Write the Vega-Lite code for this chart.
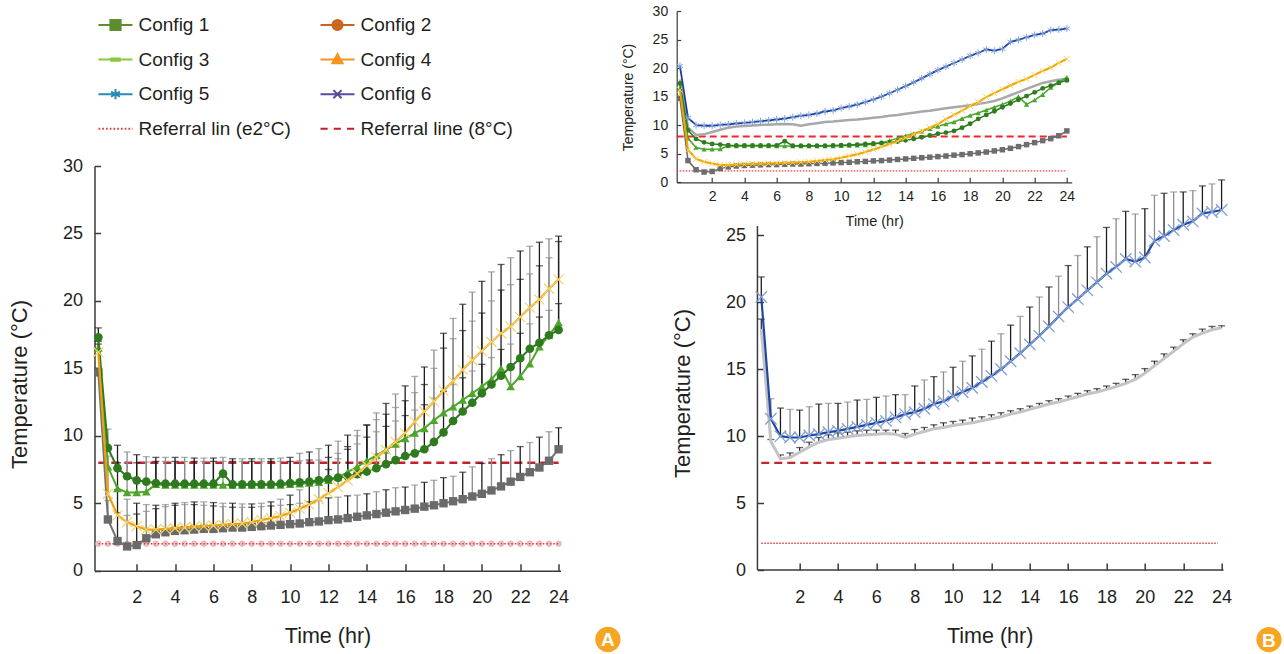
{
  "$schema": "https://vega.github.io/schema/vega-lite/v6.json",
  "background": "white",
  "padding": {"left": 7.5, "top": 4, "right": 0, "bottom": 0},
  "config": {
    "view": {"stroke": null},
    "font": "Liberation Sans",
    "axis": {"grid": false, "domainColor": "#3a3a3a", "tickColor": "#3a3a3a", "labelColor": "#231f20", "titleColor": "#231f20", "titleFontWeight": "normal", "labelOverlap": false, "labelFlush": false, "domainWidth": 1.5, "tickWidth": 1.5, "titleFont": "Liberation Sans", "tickCount": 50, "format": "d"},
    "legend": {"columns": 2, "columnPadding": 25, "rowPadding": 6.6, "symbolSize": 1156, "symbolStrokeWidth": 2, "labelFont": "Liberation Sans", "labelFontSize": 19, "labelOffset": 5, "labelLimit": 0, "padding": 0, "symbolOpacity": 1, "labelColor": "#231f20"}
  },
  "datasets": {
    "leg": [{"s": "Config 1"}, {"s": "Config 2"}, {"s": "Config 3"}, {"s": "Config 4"}, {"s": "Config 5"}, {"s": "Config 6"}, {"s": "Referral lin (e2°C)"}, {"s": "Referral line (8°C)"}],
    "d": [
      {"t":0,"a":14.7,"au":15.0,"b":17.3,"bu":18.0,"c":16.5,"cu":17.0,"d":16.2,"du":16.8,"e":20.4,"eu":21.9,"f":18.0,"fu":18.75},
      {"t":0.5,"a":3.8,"au":5.2,"b":9.1,"bu":10.5,"c":7.7,"cu":8.5,"d":5.7,"du":7.5,"e":11.3,"eu":12.8,"f":9.6,"fu":9.75},
      {"t":1,"a":2.2,"au":4.3,"b":7.6,"bu":9.3,"c":6.1,"cu":8.0,"d":4.1,"du":6.0,"e":10.0,"eu":12.1,"f":8.3,"fu":8.6},
      {"t":1.5,"a":1.8,"au":4.1,"b":7.0,"bu":8.8,"c":5.8,"cu":8.0,"d":3.6,"du":5.3,"e":9.9,"eu":12.0,"f":8.4,"fu":8.75},
      {"t":2,"a":1.9,"au":4.2,"b":6.7,"bu":8.6,"c":5.8,"cu":8.0,"d":3.3,"du":5.0,"e":9.9,"eu":11.95,"f":8.8,"fu":9.15},
      {"t":2.5,"a":2.4,"au":4.4,"b":6.6,"bu":8.45,"c":5.85,"cu":8.05,"d":3.05,"du":4.9,"e":10.05,"eu":12.2,"f":9.2,"fu":9.55},
      {"t":3,"a":2.7,"au":4.6,"b":6.5,"bu":8.4,"c":6.4,"cu":8.1,"d":3.05,"du":4.85,"e":10.15,"eu":12.4,"f":9.55,"fu":9.9},
      {"t":3.5,"a":2.85,"au":4.75,"b":6.45,"bu":8.4,"c":6.35,"cu":8.1,"d":3.1,"du":4.9,"e":10.3,"eu":12.45,"f":9.75,"fu":10.1},
      {"t":4,"a":2.95,"au":4.85,"b":6.45,"bu":8.4,"c":6.35,"cu":8.1,"d":3.15,"du":5.0,"e":10.4,"eu":12.45,"f":9.85,"fu":10.25},
      {"t":4.5,"a":3.0,"au":4.9,"b":6.45,"bu":8.4,"c":6.35,"cu":8.1,"d":3.2,"du":5.05,"e":10.55,"eu":12.55,"f":9.95,"fu":10.3},
      {"t":5,"a":3.05,"au":4.9,"b":6.45,"bu":8.35,"c":6.35,"cu":8.1,"d":3.25,"du":5.1,"e":10.7,"eu":12.7,"f":10.05,"fu":10.4},
      {"t":5.5,"a":3.1,"au":4.85,"b":6.45,"bu":8.35,"c":6.35,"cu":8.1,"d":3.3,"du":5.1,"e":10.85,"eu":12.75,"f":10.1,"fu":10.45},
      {"t":6,"a":3.1,"au":4.8,"b":6.45,"bu":8.35,"c":6.35,"cu":8.1,"d":3.35,"du":5.05,"e":11.0,"eu":12.9,"f":10.15,"fu":10.45},
      {"t":6.5,"a":3.15,"au":4.75,"b":7.2,"bu":8.4,"c":6.35,"cu":8.1,"d":3.4,"du":5.0,"e":11.15,"eu":13.0,"f":10.2,"fu":10.45},
      {"t":7,"a":3.2,"au":4.7,"b":6.4,"bu":8.3,"c":6.35,"cu":8.1,"d":3.45,"du":5.0,"e":11.4,"eu":13.1,"f":10.15,"fu":10.45},
      {"t":7.5,"a":3.2,"au":4.7,"b":6.4,"bu":8.3,"c":6.35,"cu":8.1,"d":3.5,"du":4.95,"e":11.65,"eu":13.1,"f":9.9,"fu":10.2},
      {"t":8,"a":3.25,"au":4.7,"b":6.4,"bu":8.3,"c":6.35,"cu":8.1,"d":3.6,"du":4.95,"e":11.8,"eu":13.75,"f":10.15,"fu":10.5},
      {"t":8.5,"a":3.3,"au":4.75,"b":6.4,"bu":8.3,"c":6.35,"cu":8.1,"d":3.75,"du":5.0,"e":12.05,"eu":14.2,"f":10.35,"fu":10.65},
      {"t":9,"a":3.35,"au":4.8,"b":6.4,"bu":8.3,"c":6.35,"cu":8.1,"d":3.9,"du":5.1,"e":12.4,"eu":14.45,"f":10.55,"fu":10.85},
      {"t":9.5,"a":3.4,"au":4.85,"b":6.45,"bu":8.35,"c":6.35,"cu":8.1,"d":4.05,"du":5.3,"e":12.6,"eu":14.8,"f":10.65,"fu":11.0},
      {"t":10,"a":3.45,"au":4.9,"b":6.5,"bu":8.4,"c":6.4,"cu":8.1,"d":4.3,"du":5.6,"e":13.0,"eu":15.15,"f":10.8,"fu":11.1},
      {"t":10.5,"a":3.5,"au":5.0,"b":6.55,"bu":8.7,"c":6.45,"cu":8.15,"d":4.6,"du":6.0,"e":13.3,"eu":15.6,"f":10.9,"fu":11.2},
      {"t":11,"a":3.6,"au":5.1,"b":6.6,"bu":8.8,"c":6.5,"cu":8.2,"d":4.9,"du":6.4,"e":13.6,"eu":16.0,"f":11.0,"fu":11.35},
      {"t":11.5,"a":3.65,"au":5.2,"b":6.7,"bu":9.05,"c":6.55,"cu":8.2,"d":5.3,"du":6.9,"e":14.05,"eu":16.5,"f":11.15,"fu":11.45},
      {"t":12,"a":3.75,"au":5.4,"b":6.8,"bu":9.3,"c":6.7,"cu":8.4,"d":5.75,"du":7.5,"e":14.5,"eu":17.1,"f":11.3,"fu":11.6},
      {"t":12.5,"a":3.8,"au":5.45,"b":6.9,"bu":9.6,"c":6.9,"cu":8.7,"d":6.2,"du":8.3,"e":15.0,"eu":17.65,"f":11.45,"fu":11.75},
      {"t":13,"a":3.9,"au":5.55,"b":7.0,"bu":10.05,"c":7.3,"cu":9.0,"d":6.7,"du":9.2,"e":15.6,"eu":18.3,"f":11.65,"fu":11.9},
      {"t":13.5,"a":4.0,"au":5.6,"b":7.15,"bu":10.4,"c":7.7,"cu":9.4,"d":7.2,"du":10.0,"e":16.2,"eu":18.95,"f":11.8,"fu":12.05},
      {"t":14,"a":4.1,"au":5.7,"b":7.35,"bu":10.8,"c":8.15,"cu":9.9,"d":7.8,"du":10.8,"e":16.85,"eu":19.65,"f":12.0,"fu":12.25},
      {"t":14.5,"a":4.2,"au":5.85,"b":7.6,"bu":11.2,"c":8.55,"cu":10.3,"d":8.4,"du":11.7,"e":17.5,"eu":20.4,"f":12.2,"fu":12.45},
      {"t":15,"a":4.3,"au":6.0,"b":7.9,"bu":11.6,"c":8.95,"cu":10.7,"d":8.95,"du":12.4,"e":18.2,"eu":21.15,"f":12.4,"fu":12.65},
      {"t":15.5,"a":4.4,"au":6.15,"b":8.2,"bu":12.1,"c":9.4,"cu":11.1,"d":9.55,"du":13.1,"e":18.95,"eu":21.95,"f":12.55,"fu":12.8},
      {"t":16,"a":4.5,"au":6.2,"b":8.5,"bu":12.6,"c":9.8,"cu":11.5,"d":10.2,"du":13.7,"e":19.65,"eu":22.75,"f":12.75,"fu":13.0},
      {"t":16.5,"a":4.6,"au":6.35,"b":8.7,"bu":13.2,"c":10.2,"cu":11.9,"d":11.05,"du":14.4,"e":20.25,"eu":23.5,"f":12.95,"fu":13.2},
      {"t":17,"a":4.75,"au":6.55,"b":9.0,"bu":13.8,"c":10.55,"cu":12.3,"d":11.8,"du":15.1,"e":20.9,"eu":24.15,"f":13.15,"fu":13.4},
      {"t":17.5,"a":4.85,"au":6.7,"b":9.55,"bu":15.0,"c":11.15,"cu":12.8,"d":12.55,"du":16.35,"e":21.5,"eu":24.9,"f":13.3,"fu":13.55},
      {"t":18,"a":5.0,"au":6.9,"b":10.25,"bu":16.5,"c":11.7,"cu":13.3,"d":13.35,"du":17.6,"e":22.15,"eu":25.6,"f":13.5,"fu":13.75},
      {"t":18.5,"a":5.15,"au":7.0,"b":11.1,"bu":17.2,"c":12.15,"cu":13.8,"d":14.05,"du":18.7,"e":22.65,"eu":26.25,"f":13.7,"fu":13.95},
      {"t":19,"a":5.3,"au":7.3,"b":11.8,"bu":17.8,"c":12.65,"cu":14.3,"d":14.9,"du":19.75,"e":23.25,"eu":26.8,"f":13.95,"fu":14.25},
      {"t":19.5,"a":5.5,"au":7.7,"b":12.45,"bu":18.5,"c":13.15,"cu":14.8,"d":15.6,"du":20.65,"e":23.05,"eu":26.6,"f":14.25,"fu":14.6},
      {"t":20,"a":5.7,"au":7.95,"b":13.15,"bu":19.1,"c":13.65,"cu":15.3,"d":16.3,"du":21.45,"e":23.35,"eu":27.0,"f":14.7,"fu":15.05},
      {"t":20.5,"a":5.95,"au":8.3,"b":13.8,"bu":20.0,"c":14.2,"cu":15.8,"d":16.95,"du":22.15,"e":24.6,"eu":28.0,"f":15.25,"fu":15.6},
      {"t":21,"a":6.25,"au":8.6,"b":14.45,"bu":20.8,"c":15.0,"cu":16.4,"d":17.6,"du":22.7,"e":24.95,"eu":28.15,"f":15.8,"fu":16.15},
      {"t":21.5,"a":6.6,"au":8.9,"b":15.1,"bu":21.2,"c":13.65,"cu":16.8,"d":18.1,"du":23.2,"e":25.4,"eu":28.25,"f":16.35,"fu":16.65},
      {"t":22,"a":6.95,"au":9.2,"b":15.75,"bu":21.6,"c":14.4,"cu":17.6,"d":18.8,"du":23.7,"e":25.8,"eu":28.25,"f":16.9,"fu":17.2},
      {"t":22.5,"a":7.3,"au":9.5,"b":16.45,"bu":22.0,"c":15.35,"cu":18.3,"d":19.5,"du":24.05,"e":26.05,"eu":28.35,"f":17.4,"fu":17.65},
      {"t":23,"a":7.65,"au":9.9,"b":16.9,"bu":22.6,"c":16.6,"cu":18.8,"d":20.1,"du":24.35,"e":26.65,"eu":28.7,"f":17.7,"fu":18.0},
      {"t":23.5,"a":8.15,"au":10.3,"b":17.45,"bu":23.2,"c":17.45,"cu":19.3,"d":20.9,"du":24.6,"e":26.75,"eu":28.85,"f":17.95,"fu":18.2},
      {"t":24,"a":9.0,"au":10.6,"b":17.85,"bu":24.4,"c":18.4,"cu":19.8,"d":21.6,"du":24.8,"e":26.9,"eu":29.15,"f":18.1,"fu":18.25}
    ]
  },
  "columns": 2,
  "bounds": "flush",
  "spacing": {"row": 0, "column": 116.2},
  "concat": [
    {
      "width": 385,
      "height": 111,
      "data": {"name": "leg"},
      "mark": {"type": "point", "opacity": 0, "filled": true},
      "encoding": {
        "shape": {"field": "s", "type": "nominal", "sort": null,
          "scale": {"domain": ["Config 1", "Config 3", "Config 5", "Referral lin (e2°C)", "Config 2", "Config 4", "Config 6", "Referral line (8°C)"],
            "range": ["M-1,0H1M-0.3,-0.3H0.3V0.3H-0.3Z", "M-1,0H1M-0.25,-0.07H0.25V0.07H-0.25Z", "M-1,0H1M0,-0.3V0.3M-0.26,-0.15L0.26,0.15M-0.26,0.15L0.26,-0.15", "M-1,0H-0.9M-0.78,0H-0.68M-0.56,0H-0.46M-0.34,0H-0.24M-0.12,0H-0.02M0.1,0H0.2M0.32,0H0.42M0.54,0H0.64M0.76,0H0.86M0.96,0H1", "M-1,0H1M0.3,0A0.3,0.3 0 1,1 -0.3,0A0.3,0.3 0 1,1 0.3,0Z", "M-1,0H1M0,-0.32L0.3,0.22H-0.3Z", "M-1,0H1M-0.24,-0.24L0.24,0.24M-0.24,0.24L0.24,-0.24", "M-1,0H-0.58M-0.22,0H0.2M0.56,0H0.98"]},
          "legend": {"title": null, "orient": "none", "legendX": 3, "legendY": -4}},
        "fill": {"field": "s", "type": "nominal", "sort": null,
          "scale": {"domain": ["Config 1", "Config 3", "Config 5", "Referral lin (e2°C)", "Config 2", "Config 4", "Config 6", "Referral line (8°C)"],
            "range": ["#5e8d2e", "#8cc63f", "#2a8ab5", "#e8383d", "#d0681f", "#f7941d", "#5c4b9c", "#c41e24"]},
          "legend": {"title": null, "orient": "none", "legendX": 3, "legendY": -4}},
        "stroke": {"field": "s", "type": "nominal", "sort": null,
          "scale": {"domain": ["Config 1", "Config 3", "Config 5", "Referral lin (e2°C)", "Config 2", "Config 4", "Config 6", "Referral line (8°C)"],
            "range": ["#5e8d2e", "#8cc63f", "#2a8ab5", "#e8383d", "#c8641e", "#f7941d", "#5c4b9c", "#c41e24"]},
          "legend": {"title": null, "orient": "none", "legendX": 3, "legendY": -4}}
      }
    },
    {
      "width": 395,
      "height": 155,
      "data": {"name": "d"},
      "layer": [
        {"data": {"values": [{"ref": 2}]}, "mark": {"type": "rule", "color": "#ff3a3a", "strokeWidth": 1.3, "strokeDash": [1.5, 1.5]},
          "encoding": {"x": {"datum": -0.2, "type": "quantitative", "title": "Time (hr)"}, "x2": {"datum": 24}, "y": {"field": "ref", "type": "quantitative", "title": "Temperature (°C)"}}},
        {"data": {"values": [{"ref": 8}]}, "mark": {"type": "rule", "color": "#f0262a", "strokeWidth": 2, "strokeDash": [7, 4]},
          "encoding": {"x": {"datum": -0.2, "type": "quantitative", "title": "Time (hr)"}, "x2": {"datum": 24}, "y": {"field": "ref", "type": "quantitative", "title": "Temperature (°C)"}}},
        {"mark": {"type": "line", "color": "#a8a8a8", "strokeWidth": 2.5},
          "encoding": {
            "x": {"field": "t", "type": "quantitative", "title": "Time (hr)", "scale": {"domain": [-0.2, 24.3], "nice": false, "zero": false},
              "axis": {"values": [2,4,6,8,10,12,14,16,18,20,22,24], "format": "d", "tickCount": 50, "labelOverlap": false, "offset": 16.3, "tickSize": -5, "labelPadding": 12.5, "labelFontSize": 14, "titleFontSize": 14.5, "titlePadding": 11, "domainWidth": 1.2, "tickWidth": 1.2}},
            "y": {"field": "f", "type": "quantitative", "title": "Temperature (°C)", "scale": {"domain": [0, 30], "range": [171.3, 0], "nice": false, "zero": false},
              "axis": {"values": [0,5,10,15,20,25,30], "format": "d", "tickCount": 50, "labelOverlap": false, "tickSize": -4, "labelPadding": 13, "labelFontSize": 14, "titleFontSize": 14, "titlePadding": 17, "titleY": 86, "domainWidth": 1.2, "tickWidth": 1.2}}}},
        {"mark": {"type": "line", "color": "#6d6d6d", "strokeWidth": 1.5}, "encoding": {"x": {"field": "t", "type": "quantitative", "title": "Time (hr)"}, "y": {"field": "a", "type": "quantitative", "title": "Temperature (°C)"}}},
        {"mark": {"type": "point", "shape": "square", "filled": true, "color": "#6d6d6d", "size": 30, "opacity": 1}, "encoding": {"x": {"field": "t", "type": "quantitative", "title": "Time (hr)"}, "y": {"field": "a", "type": "quantitative", "title": "Temperature (°C)"}}},
        {"mark": {"type": "line", "color": "#4aa52c", "strokeWidth": 1.5}, "encoding": {"x": {"field": "t", "type": "quantitative", "title": "Time (hr)"}, "y": {"field": "c", "type": "quantitative", "title": "Temperature (°C)"}}},
        {"mark": {"type": "point", "shape": "triangle-up", "filled": true, "color": "#4aa52c", "size": 28, "opacity": 1}, "encoding": {"x": {"field": "t", "type": "quantitative", "title": "Time (hr)"}, "y": {"field": "c", "type": "quantitative", "title": "Temperature (°C)"}}},
        {"mark": {"type": "line", "color": "#2e7d1e", "strokeWidth": 1.5}, "encoding": {"x": {"field": "t", "type": "quantitative", "title": "Time (hr)"}, "y": {"field": "b", "type": "quantitative", "title": "Temperature (°C)"}}},
        {"mark": {"type": "point", "shape": "circle", "filled": true, "color": "#2e7d1e", "size": 24, "opacity": 1}, "encoding": {"x": {"field": "t", "type": "quantitative", "title": "Time (hr)"}, "y": {"field": "b", "type": "quantitative", "title": "Temperature (°C)"}}},
        {"mark": {"type": "line", "color": "#f0a500", "strokeWidth": 2}, "encoding": {"x": {"field": "t", "type": "quantitative", "title": "Time (hr)"}, "y": {"field": "d", "type": "quantitative", "title": "Temperature (°C)"}}},
        {"mark": {"type": "point", "shape": "M-1,-1L1,1M-1,1L1,-1", "filled": false, "color": "#f5d35a", "size": 36, "strokeWidth": 1, "opacity": 1}, "encoding": {"x": {"field": "t", "type": "quantitative", "title": "Time (hr)"}, "y": {"field": "d", "type": "quantitative", "title": "Temperature (°C)"}}},
        {"mark": {"type": "line", "color": "#1d3f9a", "strokeWidth": 1.8}, "encoding": {"x": {"field": "t", "type": "quantitative", "title": "Time (hr)"}, "y": {"field": "e", "type": "quantitative", "title": "Temperature (°C)"}}},
        {"mark": {"type": "point", "shape": "M0,-1V1M-0.87,-0.5L0.87,0.5M-0.87,0.5L0.87,-0.5", "filled": false, "color": "#7fa3e0", "size": 49, "strokeWidth": 1, "opacity": 1}, "encoding": {"x": {"field": "t", "type": "quantitative", "title": "Time (hr)"}, "y": {"field": "e", "type": "quantitative", "title": "Temperature (°C)"}}}
      ]
    },
    {
      "width": 466,
      "height": 404.7,
      "data": {"name": "d"},
      "layer": [
        {"mark": {"type": "point", "shape": "circle", "filled": true, "fill": "#f3c3c9", "stroke": "#e6a2aa", "strokeWidth": 0.8, "size": 30, "opacity": 1},
          "encoding": {
            "x": {"field": "t", "type": "quantitative", "title": "Time (hr)", "scale": {"domain": [-0.2, 24.1], "nice": false, "zero": false},
              "axis": {"values": [2,4,6,8,10,12,14,16,18,20,22,24], "format": "d", "tickCount": 50, "labelOverlap": false, "tickSize": -7, "labelPadding": 25, "labelFontSize": 18, "titleFontSize": 21.5, "titlePadding": 19}},
            "y": {"datum": 2, "type": "quantitative", "title": "Temperature (°C)", "scale": {"domain": [0, 30], "nice": false},
              "axis": {"values": [0,5,10,15,20,25,30], "format": "d", "tickCount": 50, "labelOverlap": false, "tickSize": -6, "labelPadding": 18, "labelFontSize": 18, "titleFontSize": 22, "titlePadding": 31, "titleY": 218}}}},
        {"data": {"values": [{"ref": 2}]}, "mark": {"type": "rule", "color": "#e8383d", "strokeWidth": 1.5, "strokeDash": [1.5, 2]},
          "encoding": {"x": {"datum": 0, "type": "quantitative", "title": "Time (hr)"}, "x2": {"datum": 24}, "y": {"field": "ref", "type": "quantitative", "title": "Temperature (°C)"}}},
        {"data": {"values": [{"ref": 8}]}, "mark": {"type": "rule", "color": "#c0232a", "strokeWidth": 2.5, "strokeDash": [8, 5]},
          "encoding": {"x": {"datum": 0, "type": "quantitative", "title": "Time (hr)"}, "x2": {"datum": 24}, "y": {"field": "ref", "type": "quantitative", "title": "Temperature (°C)"}}},
        {"mark": {"type": "rule", "strokeWidth": 1.3},
          "encoding": {"x": {"field": "t", "type": "quantitative", "title": "Time (hr)"}, "y": {"field": "a", "type": "quantitative", "title": "Temperature (°C)"}, "y2": {"field": "au"},
            "stroke": {"condition": {"test": "datum.t % 1 === 0", "value": "#1e1e1e"}, "value": "#8c8c8c"}}},
        {"mark": {"type": "tick", "orient": "horizontal", "size": 7, "thickness": 1.3},
          "encoding": {"x": {"field": "t", "type": "quantitative", "title": "Time (hr)"}, "y": {"field": "au", "type": "quantitative", "title": "Temperature (°C)"},
            "color": {"condition": {"test": "datum.t % 1 === 0", "value": "#1e1e1e"}, "value": "#8c8c8c"}}},
        {"mark": {"type": "rule", "strokeWidth": 1.3},
          "encoding": {"x": {"field": "t", "type": "quantitative", "title": "Time (hr)"}, "y": {"field": "d", "type": "quantitative", "title": "Temperature (°C)"}, "y2": {"field": "du"},
            "stroke": {"condition": {"test": "datum.t % 1 === 0", "value": "#1e1e1e"}, "value": "#8c8c8c"}}},
        {"mark": {"type": "tick", "orient": "horizontal", "size": 7, "thickness": 1.3},
          "encoding": {"x": {"field": "t", "type": "quantitative", "title": "Time (hr)"}, "y": {"field": "du", "type": "quantitative", "title": "Temperature (°C)"},
            "color": {"condition": {"test": "datum.t % 1 === 0", "value": "#1e1e1e"}, "value": "#8c8c8c"}}},
        {"mark": {"type": "rule", "strokeWidth": 1.3},
          "encoding": {"x": {"field": "t", "type": "quantitative", "title": "Time (hr)"}, "y": {"field": "b", "type": "quantitative", "title": "Temperature (°C)"}, "y2": {"field": "bu"},
            "stroke": {"condition": {"test": "datum.t % 1 === 0", "value": "#1e1e1e"}, "value": "#8c8c8c"}}},
        {"mark": {"type": "tick", "orient": "horizontal", "size": 7, "thickness": 1.3},
          "encoding": {"x": {"field": "t", "type": "quantitative", "title": "Time (hr)"}, "y": {"field": "bu", "type": "quantitative", "title": "Temperature (°C)"},
            "color": {"condition": {"test": "datum.t % 1 === 0", "value": "#1e1e1e"}, "value": "#8c8c8c"}}},
        {"mark": {"type": "rule", "strokeWidth": 1.3},
          "encoding": {"x": {"field": "t", "type": "quantitative", "title": "Time (hr)"}, "y": {"field": "c", "type": "quantitative", "title": "Temperature (°C)"}, "y2": {"field": "cu"},
            "stroke": {"condition": {"test": "datum.t % 1 === 0", "value": "#1e1e1e"}, "value": "#8c8c8c"}}},
        {"mark": {"type": "tick", "orient": "horizontal", "size": 7, "thickness": 1.3},
          "encoding": {"x": {"field": "t", "type": "quantitative", "title": "Time (hr)"}, "y": {"field": "cu", "type": "quantitative", "title": "Temperature (°C)"},
            "color": {"condition": {"test": "datum.t % 1 === 0", "value": "#1e1e1e"}, "value": "#8c8c8c"}}},
        {"mark": {"type": "line", "color": "#737373", "strokeWidth": 2}, "encoding": {"x": {"field": "t", "type": "quantitative", "title": "Time (hr)"}, "y": {"field": "a", "type": "quantitative", "title": "Temperature (°C)"}}},
        {"mark": {"type": "point", "shape": "square", "filled": true, "color": "#6a6a6a", "size": 70, "opacity": 1}, "encoding": {"x": {"field": "t", "type": "quantitative", "title": "Time (hr)"}, "y": {"field": "a", "type": "quantitative", "title": "Temperature (°C)"}}},
        {"mark": {"type": "line", "color": "#4ea52b", "strokeWidth": 2}, "encoding": {"x": {"field": "t", "type": "quantitative", "title": "Time (hr)"}, "y": {"field": "c", "type": "quantitative", "title": "Temperature (°C)"}}},
        {"mark": {"type": "point", "shape": "triangle-up", "filled": true, "color": "#4ea52b", "size": 75, "opacity": 1}, "encoding": {"x": {"field": "t", "type": "quantitative", "title": "Time (hr)"}, "y": {"field": "c", "type": "quantitative", "title": "Temperature (°C)"}}},
        {"mark": {"type": "line", "color": "#2e7a1f", "strokeWidth": 2}, "encoding": {"x": {"field": "t", "type": "quantitative", "title": "Time (hr)"}, "y": {"field": "b", "type": "quantitative", "title": "Temperature (°C)"}}},
        {"mark": {"type": "point", "shape": "circle", "filled": true, "color": "#2e7a1f", "size": 75, "opacity": 1}, "encoding": {"x": {"field": "t", "type": "quantitative", "title": "Time (hr)"}, "y": {"field": "b", "type": "quantitative", "title": "Temperature (°C)"}}},
        {"mark": {"type": "line", "color": "#efa10c", "strokeWidth": 2.2}, "encoding": {"x": {"field": "t", "type": "quantitative", "title": "Time (hr)"}, "y": {"field": "d", "type": "quantitative", "title": "Temperature (°C)"}}},
        {"mark": {"type": "point", "shape": "M-1,-1L1,1M-1,1L1,-1", "filled": false, "color": "#f3d36a", "size": 100, "strokeWidth": 1.2, "opacity": 1}, "encoding": {"x": {"field": "t", "type": "quantitative", "title": "Time (hr)"}, "y": {"field": "d", "type": "quantitative", "title": "Temperature (°C)"}}},
        {"data": {"values": [{"label": "A"}]}, "mark": {"type": "point", "shape": "circle", "filled": true, "color": "#f6a623", "size": 640, "opacity": 1},
          "encoding": {"x": {"datum": 26.57, "type": "quantitative", "title": "Time (hr)"}, "y": {"datum": -5.1, "type": "quantitative", "title": "Temperature (°C)"}}},
        {"data": {"values": [{"label": "A"}]}, "mark": {"type": "text", "color": "white", "fontSize": 19, "fontWeight": "bold", "baseline": "middle", "align": "center", "dy": 1},
          "encoding": {"x": {"datum": 26.57, "type": "quantitative", "title": "Time (hr)"}, "y": {"datum": -5.1, "type": "quantitative", "title": "Temperature (°C)"}, "text": {"field": "label"}}}
      ]
    },
    {
      "width": 546.8,
      "height": 404,
      "data": {"name": "d"},
      "layer": [
        {"data": {"values": [{"ref": 2}]}, "mark": {"type": "rule", "color": "#e23a3e", "strokeWidth": 1.5, "strokeDash": [1.5, 1.5]},
          "encoding": {
            "x": {"datum": 0, "type": "quantitative", "title": "Time (hr)", "scale": {"domain": [-4.41, 24.1], "nice": false, "zero": false},
              "axis": {"values": [2,4,6,8,10,12,14,16,18,20,22,24], "format": "d", "tickCount": 50, "labelOverlap": false, "domain": false, "tickSize": -7, "labelPadding": 25, "labelFontSize": 18, "titleFontSize": 21.5, "titlePadding": 19, "titleX": 313}},
            "x2": {"datum": 23.8},
            "y": {"field": "ref", "type": "quantitative", "title": "Temperature (°C)", "scale": {"domain": [0, 30.19], "nice": false},
              "axis": {"values": [0,5,10,15,20,25], "format": "d", "tickCount": 50, "labelOverlap": false, "domain": false, "offset": -80.8, "tickSize": -6, "labelPadding": 18, "labelFontSize": 18, "titleFontSize": 22, "titlePadding": 31, "titleY": 227}}}},
        {"data": {"values": [{"ref": 0}]}, "mark": {"type": "rule", "color": "#3a3a3a", "strokeWidth": 1.5},
          "encoding": {"x": {"datum": -0.2, "type": "quantitative", "title": "Time (hr)"}, "x2": {"datum": 24.1}, "y": {"field": "ref", "type": "quantitative", "title": "Temperature (°C)"}}},
        {"data": {"values": [{"ref": 0}]}, "mark": {"type": "rule", "color": "#3a3a3a", "strokeWidth": 1.5},
          "encoding": {"x": {"datum": -0.2, "type": "quantitative", "title": "Time (hr)"}, "y": {"field": "ref", "type": "quantitative", "title": "Temperature (°C)"}, "y2": {"datum": 25.7}}},
        {"data": {"values": [{"ref": 8}]}, "mark": {"type": "rule", "color": "#c1272d", "strokeWidth": 2.3, "strokeDash": [8, 5]},
          "encoding": {"x": {"datum": 0, "type": "quantitative", "title": "Time (hr)"}, "x2": {"datum": 23.7}, "y": {"field": "ref", "type": "quantitative", "title": "Temperature (°C)"}}},
        {"mark": {"type": "rule", "strokeWidth": 1.2, "color": "#222222"},
          "encoding": {"x": {"field": "t", "type": "quantitative", "title": "Time (hr)"}, "y": {"field": "f", "type": "quantitative", "title": "Temperature (°C)"}, "y2": {"field": "fu"}}},
        {"mark": {"type": "tick", "orient": "horizontal", "size": 7, "thickness": 1.3, "color": "#222222"},
          "encoding": {"x": {"field": "t", "type": "quantitative", "title": "Time (hr)"}, "y": {"field": "fu", "type": "quantitative", "title": "Temperature (°C)"}}},
        {"mark": {"type": "line", "color": "#c4c4c4", "strokeWidth": 3}, "encoding": {"x": {"field": "t", "type": "quantitative", "title": "Time (hr)"}, "y": {"field": "f", "type": "quantitative", "title": "Temperature (°C)"}}},
        {"mark": {"type": "rule", "strokeWidth": 1.3},
          "encoding": {"x": {"field": "t", "type": "quantitative", "title": "Time (hr)"}, "y": {"field": "e", "type": "quantitative", "title": "Temperature (°C)"}, "y2": {"field": "eu"},
            "stroke": {"condition": {"test": "datum.t % 1 === 0", "value": "#1e1e1e"}, "value": "#8c8c8c"}}},
        {"mark": {"type": "tick", "orient": "horizontal", "size": 7, "thickness": 1.3},
          "encoding": {"x": {"field": "t", "type": "quantitative", "title": "Time (hr)"}, "y": {"field": "eu", "type": "quantitative", "title": "Temperature (°C)"},
            "color": {"condition": {"test": "datum.t % 1 === 0", "value": "#1e1e1e"}, "value": "#8c8c8c"}}},
        {"mark": {"type": "line", "color": "#1f45a5", "strokeWidth": 2.2}, "encoding": {"x": {"field": "t", "type": "quantitative", "title": "Time (hr)"}, "y": {"field": "e", "type": "quantitative", "title": "Temperature (°C)"}}},
        {"mark": {"type": "point", "shape": "M-1,-1L1,1M-1,1L1,-1", "filled": false, "color": "#7f9fd6", "size": 130, "strokeWidth": 1.3, "opacity": 1}, "encoding": {"x": {"field": "t", "type": "quantitative", "title": "Time (hr)"}, "y": {"field": "e", "type": "quantitative", "title": "Temperature (°C)"}}},
        {"data": {"values": [{"label": "B"}]}, "mark": {"type": "point", "shape": "circle", "filled": true, "color": "#f6a623", "size": 640, "opacity": 1},
          "encoding": {"x": {"datum": 26.47, "type": "quantitative", "title": "Time (hr)"}, "y": {"datum": -5.2, "type": "quantitative", "title": "Temperature (°C)"}}},
        {"data": {"values": [{"label": "B"}]}, "mark": {"type": "text", "color": "white", "fontSize": 19, "fontWeight": "bold", "baseline": "middle", "align": "center", "dy": 1},
          "encoding": {"x": {"datum": 26.47, "type": "quantitative", "title": "Time (hr)"}, "y": {"datum": -5.2, "type": "quantitative", "title": "Temperature (°C)"}, "text": {"field": "label"}}}
      ]
    }
  ]
}
